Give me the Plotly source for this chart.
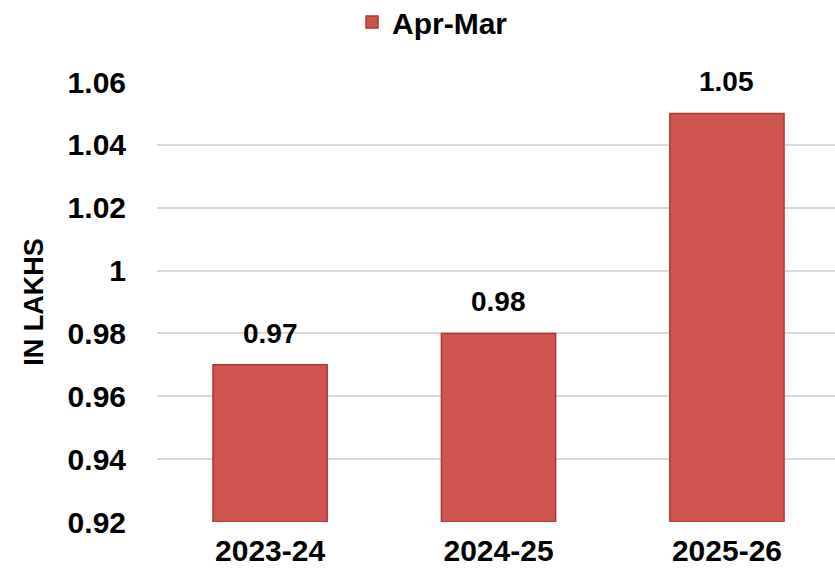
import plotly.graph_objects as go

years = ["2023-24", "2024-25", "2025-26"]
values = [0.97, 0.98, 1.05]
value_labels = ["0.97", "0.98", "1.05"]
y_ticks = [0.92, 0.94, 0.96, 0.98, 1.00, 1.02, 1.04, 1.06]
y_tick_text = ["0.92", "0.94", "0.96", "0.98", "1", "1.02", "1.04", "1.06"]
y_floor = 0.92

FONT = "Liberation Sans, Arial, sans-serif"

fig = go.Figure()

fig.add_trace(
    go.Bar(
        x=years,
        y=[v - y_floor for v in values],
        base=y_floor,
        name="Apr-Mar",
        width=0.5,
        marker=dict(color="#cf5450", line=dict(color="#a93a36", width=1.5)),
        cliponaxis=False,
    )
)

# value labels sit well above the bar tops, so annotations with a shift
for year, v, lab in zip(years, values, value_labels):
    fig.add_annotation(
        x=year,
        y=v,
        text=lab,
        showarrow=False,
        yanchor="bottom",
        yshift=14,
        font=dict(family=FONT, size=28, color="black", weight="bold"),
    )

fig.update_xaxes(
    range=[-0.495, 2.473],
    showgrid=False,
    showline=False,
    tickfont=dict(family=FONT, size=30, color="black", weight="bold"),
    ticks="",
    ticklabelstandoff=8,
)

fig.update_yaxes(
    range=[0.92, 1.06],
    tickvals=y_ticks,
    ticktext=y_tick_text,
    showgrid=True,
    gridcolor="#d9d9d9",
    gridwidth=2,
    zeroline=False,
    showline=False,
    tickfont=dict(family=FONT, size=30, color="black", weight="bold"),
    ticklabelstandoff=30,
    title=dict(
        text="IN LAKHS",
        font=dict(family=FONT, size=27, color="black", weight="bold"),
        standoff=16,
    ),
)

fig.update_layout(
    width=835,
    height=579,
    plot_bgcolor="white",
    paper_bgcolor="white",
    margin=dict(l=157, r=0, t=82, b=57, autoexpand=False),
    showlegend=True,
    legend=dict(
        orientation="h",
        xref="container",
        yref="container",
        x=0.518,
        y=0.962,
        xanchor="center",
        yanchor="middle",
        font=dict(family=FONT, size=30, color="black", weight="bold"),
        itemwidth=30,
    ),
)

fig.write_html(
    "out.html",
    config={"displayModeBar": False},
    post_script="document.body.style.margin='0';document.body.style.overflow='hidden';",
)
